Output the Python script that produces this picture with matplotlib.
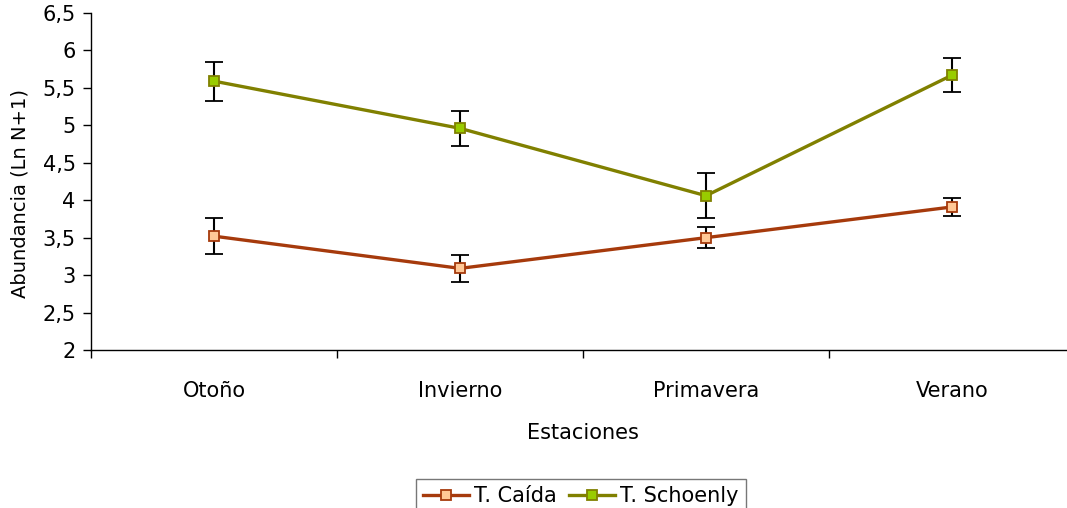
import matplotlib
matplotlib.use("Agg")
import matplotlib.pyplot as plt
import numpy as np

estaciones = ["Otoño", "Invierno", "Primavera", "Verano"]

caida = [3.52, 3.09, 3.50, 3.91]
caida_err = [0.24, 0.18, 0.14, 0.12]

schoenly = [5.59, 4.96, 4.06, 5.67]
schoenly_err = [0.26, 0.23, 0.30, 0.23]

yticks = [2, 2.5, 3, 3.5, 4, 4.5, 5, 5.5, 6, 6.5]

plt.rcParams["font.family"] = ["DejaVu Sans"]
fs = 15

W, H = 1067, 508
fig = plt.figure(figsize=(W / 100, H / 100), dpi=100)
ax = fig.add_axes([91 / W, (H - 350) / H, (1075 - 91) / W, (350 - 13) / H])

x = np.arange(1, len(estaciones) + 1)

ax.errorbar(x, caida, yerr=caida_err, color="#A63A0C", lw=2.4,
            marker="s", ms=7.5, mfc="#FFC896", mec="#A63A0C", mew=1.3,
            ecolor="black", elinewidth=1.5, capsize=6.5, capthick=1.5,
            label="T. Caída", zorder=3)
ax.errorbar(x, schoenly, yerr=schoenly_err, color="#808000", lw=2.4,
            marker="s", ms=7.5, mfc="#99CC00", mec="#808000", mew=1.3,
            ecolor="black", elinewidth=1.5, capsize=6.5, capthick=1.5,
            label="T. Schoenly", zorder=3)

ax.set_xlim(0.5, len(estaciones) + 0.5)
ax.set_ylim(2, 6.5)
ax.set_yticks(yticks)
ax.set_yticklabels([f"{v:g}".replace(".", ",") for v in yticks])
ax.set_xticks(x)
ax.set_xticklabels(estaciones)
ax.set_xticks(np.arange(0.5, len(estaciones) + 1), minor=True)
ax.tick_params(axis="x", which="major", length=0, pad=22, labelsize=fs)
ax.tick_params(axis="x", which="minor", length=6, width=1, direction="out")
ax.tick_params(axis="y", length=6, width=1, labelsize=fs, pad=5)

for s in ["top", "right"]:
    ax.spines[s].set_visible(False)
for s in ["left", "bottom"]:
    ax.spines[s].set_linewidth(1)

ax.set_xlabel("Estaciones", fontsize=fs, labelpad=16)
ax.set_ylabel("Abundancia (Ln N+1)", fontsize=14)
ax.yaxis.set_label_coords(-0.063, 0.463)

handles, labels = ax.get_legend_handles_labels()
handles = [h[0] for h in handles]
leg = fig.legend(handles, labels, loc="upper center", ncol=2,
                 bbox_to_anchor=(581 / W, (H - 479) / H), frameon=True,
                 fancybox=False, edgecolor="#555555", fontsize=fs,
                 handlelength=2.2, columnspacing=0.6, handletextpad=0.25,
                 borderpad=0.35, borderaxespad=0)
leg.get_frame().set_linewidth(1)

fig.savefig("out.png", dpi=100)
